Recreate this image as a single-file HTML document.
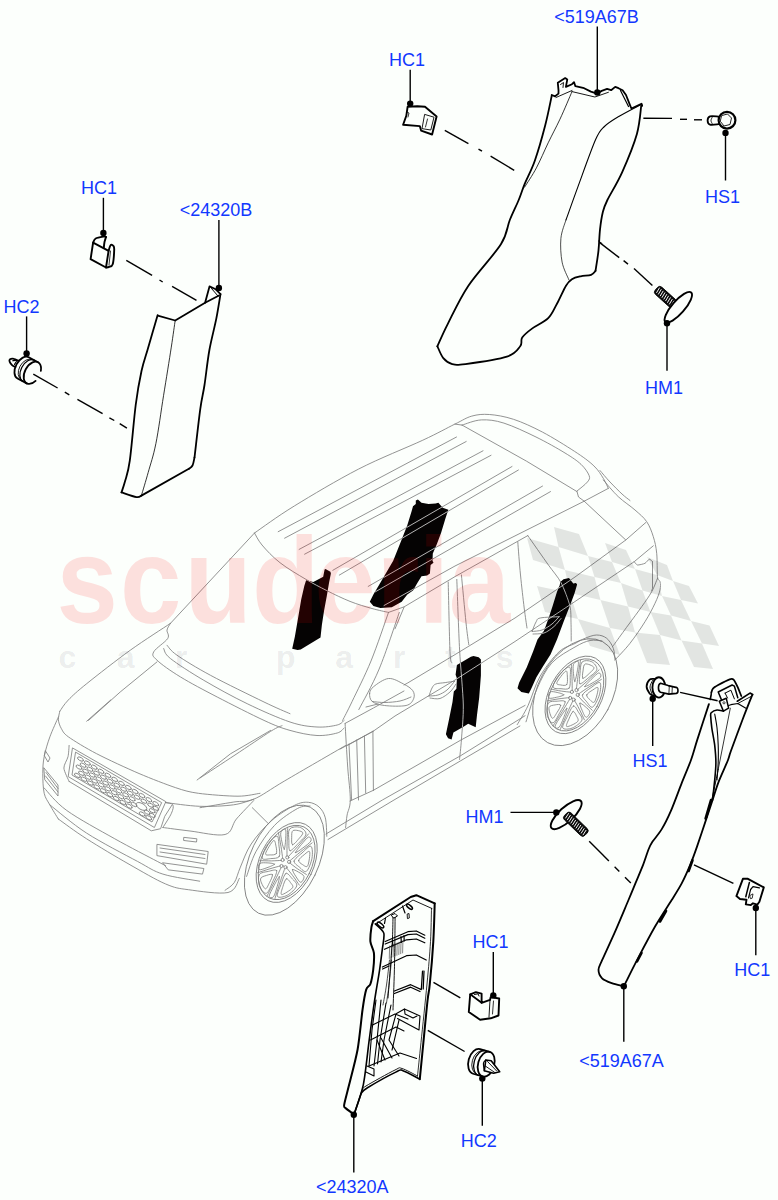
<!DOCTYPE html>
<html lang="en"><head><meta charset="utf-8"><title>Side Trim - Front And Rear</title>
<style>
html,body{margin:0;padding:0;background:#fcfffc;}
body{width:778px;height:1200px;overflow:hidden;font-family:"Liberation Sans",Arial,Helvetica,sans-serif;}
svg{display:block;font-family:"Liberation Sans",Arial,Helvetica,sans-serif;}
</style></head><body>
<svg width="778" height="1200" viewBox="0 0 778 1200">
<rect width="778" height="1200" fill="#fcfffc"/>
<defs><g id="carlines" fill="none" stroke-width="0.85" stroke-linecap="round" stroke-linejoin="round">
<path d="M254.5,533 C261.1,528.5 277,516.6 294.3,506 C311.6,495.4 337.1,480.1 358.5,469.1 C379.9,458.1 406.7,447.7 422.8,440.2 C438.9,432.7 446.7,428.1 454.9,424.1 C463.1,420.1 466.1,417.7 471.8,416.1 C477.6,414.5 482.4,414 489.4,414.5 C496.3,415 504.6,416.4 513.5,419.3 C522.4,422.2 532.3,426.8 542.5,432.1 C552.7,437.5 566,445.8 574.6,451.4 C583.2,457 589.1,461.3 593.9,465.9 C598.7,470.4 601.1,474.9 603.5,478.7 C605.9,482.4 607.5,486.8 608.3,488.4"/>
<path d="M462.1,425.1 C465.3,424.2 474.4,420.2 481.4,419.9 C488.4,419.6 494.8,420.2 503.9,423.1 C513,426 525.8,432 536,437 C546.2,442 557.5,448.4 565,453 C572.5,457.6 577,460.6 581,464.3 C585,468.1 588,472.6 589.1,475.5 C590.2,478.4 589.5,479.3 587.5,481.9 C585.5,484.5 578.8,489.5 577,491"/>
<path d="M462.1,425.1 L526.4,461.1 L577,491.6"/>
<path d="M454.9,424.1 L462.1,425.1"/>
<path d="M577,491.6 L578.5,497 L584.2,501.2 L608.3,488.4"/>
<path d="M600,470.5 C601.7,472.4 606.3,478.1 610,482 C613.7,485.9 618.7,490.9 622,494 C625.3,497.1 628.7,499.4 630,500.5"/>
<path d="M603.3,480 C605.8,482.8 613,491.7 618.3,496.7 C623.6,501.7 630.3,505.8 635,510 C639.7,514.2 643.7,517.2 646.7,521.7 C649.8,526.2 651.6,531.4 653.3,536.7 C655,542 656,546.6 656.7,553.3 C657.4,560 657,572 657.5,576.7 C658,581.4 659.6,579.5 660,581.7 C660.4,583.9 660.8,586.4 660,590 C659.2,593.6 657.5,598 655,603.3 C652.5,608.6 649.2,615 645,621.7 C640.8,628.4 635,636.9 630,643.3 C625,649.7 617.5,657.2 615,660"/>
<path d="M657.5,578.3 C656.5,580.5 654.3,587 651.7,591.7 C649.1,596.4 645.6,601.2 641.7,606.7 C637.8,612.2 632.8,618.9 628.3,625 C623.8,631.1 617.6,639.7 615,643.3 C612.4,646.9 612.9,646.1 612.5,646.7"/>
<path d="M584.2,501.2 L625.8,540 L645.8,522.5"/>
<path d="M634.2,561.7 C634.5,562 636.4,564.8 637.5,565 C638.6,565.2 643.8,563.9 645,563.3 C646.2,562.7 648.5,559.4 649.2,559.2 C650,559 652.2,561.5 652.5,561.7"/>
<path d="M652.5,561.7 L652.5,588.3 L651.7,590.8"/>
<path d="M388.5,612.4 L404.2,606.8 L455,576.6 L515,542.8 L527.8,535.6"/>
<path d="M527.8,535.6 C530.5,539.5 544,558.8 548.4,565 C552.8,571.2 558,576.9 560.9,582.4 C563.8,587.9 568.7,600.8 570,606.2 C571.3,611.6 570.8,618.2 571,622.8 C571.2,627.4 571.2,638.6 571.2,641"/>
<path d="M384,605.5 L395,599.4 L455,566 L584.2,501.2"/>
<path d="M254.5,533 L170.4,623.4"/>
<path d="M254.5,533 C255.8,535 257.8,540 262,545 C266.2,550 272.7,557 280,562.7 C287.3,568.4 298.2,574.8 306,579.4 C313.8,584 319.5,586.9 326.8,590.6 C334.1,594.3 342.5,598.4 350,601.4 C357.5,604.4 365.6,606.7 372,608.5 C378.4,610.3 385.8,611.8 388.5,612.4"/>
<path d="M278.2,531.7 L456.5,437"/>
<path d="M284.6,538.2 L466.2,441.5"/>
<path d="M299.1,549.4 L483,450.8"/>
<path d="M304.6,554.2 L491,455.3"/>
<path d="M332.8,570.3 L512,466.5"/>
<path d="M339.3,575.1 L518.4,470"/>
<path d="M368.2,586.4 L542.5,486.1"/>
<path d="M375,592 L550.5,491.6"/>
<path d="M388.5,612.4 C385.6,620.5 377.1,646.1 371,661 C364.9,675.9 356.8,691.6 352.1,701.5 C347.4,711.4 344.2,717.2 342.6,720.4"/>
<path d="M399.3,612.4 C395.9,621.9 385.9,652.9 379.1,669.1 C372.4,685.3 362.2,702.9 358.8,709.6"/>
<path d="M395,628.8 L404.2,606.8"/>
<path d="M170.4,623.4 C163.7,627.9 144.2,640.2 130.3,650.2 C116.4,660.2 97.1,675.3 86.8,683.6 C76.5,691.9 72.8,695.4 68.3,700 C63.8,704.6 61.2,709.4 59.8,711.3"/>
<path d="M170.4,623.4 C169.8,624.5 167.4,627.6 167,630.1 C166.6,632.6 169.9,634.9 167.7,638.5 C165.5,642.1 155.5,648.3 153.7,651.9 C151.9,655.5 152.6,656 157,660.2 C161.4,664.4 170.4,670.8 180.4,676.9 C190.4,683 203.3,689.8 217.2,697 C231.1,704.2 251.9,714.8 264,720.4 C276.1,726 281.2,727.9 290,730.4 C298.8,732.9 309.1,735.1 317,735.5 C324.9,735.9 332.7,734.2 337.2,733 C341.7,731.8 342.9,728.8 344,728"/>
<path d="M163.7,648.5 C164.8,650.2 163.7,653.2 170.4,658.5 C177.1,663.8 191,672.8 203.8,680.3 C216.6,687.8 232.8,696.8 247.2,703.7 C261.6,710.7 278.4,718.1 290,722 C301.6,725.9 309.1,726.5 317,727 C324.9,727.5 332.7,726.1 337.2,725 C341.7,723.9 342.9,721.2 344,720.4"/>
<path d="M167,645.2 C168.7,646.9 169.8,650.2 177,655.2 C184.2,660.2 196,667.5 210.5,675.3 C225,683.1 250.8,695.6 264,702 C277.2,708.4 285.7,711.8 290,713.7"/>
<path d="M157,661.9 L120.2,692 L88.5,720.4"/>
<path d="M59.8,711.3 C59.6,712.6 58.2,717.2 58.4,719.8 C58.6,722.3 59.7,725.8 61.2,728.3 C62.7,730.8 63,733 68.3,736.8 C73.6,740.6 86,748.2 96.6,753.7 C107.2,759.2 127.1,768.4 139,773.5 C150.9,778.6 166.8,784.7 175.7,787.7 C184.6,790.7 189.1,792 198.4,793.3 C207.7,794.6 228.8,796.2 238,796.2 C247.2,796.2 256.7,793.7 260,793.3"/>
<path d="M86.7,721.2 L110.7,700"/>
<path d="M270.6,730.4 L230.5,753.8 L197.1,780"/>
<path d="M200,778 C205.8,774.2 223.2,762.8 235,755 C246.8,747.2 262.9,736.2 270.7,731.3 C278.5,726.4 280.1,726.6 282,725.7"/>
<path d="M345.1,723.4 L373.4,708 L404,691"/>
<path d="M58.4,717 C57,720.3 52.3,730.2 49.9,736.8 C47.5,743.4 45.4,750.5 44.2,756.6 C43,762.7 42.8,767.4 42.8,773.5 C42.8,779.6 43,788.1 44.2,793.3 C45.4,798.5 47.4,800.5 49.8,804.8 C52.1,809.1 56.9,816.6 58.3,819"/>
<path d="M58.3,819 C63,822.3 74.8,831.3 86.6,838.8 C98.4,846.3 115.8,856.7 129,864.2 C142.2,871.7 155.8,879.8 165.7,884 C175.6,888.2 178,888.3 188.4,889.7 C198.8,891.1 219.5,894.4 228,892.5 C236.5,890.6 237.4,880.8 239.3,878.4"/>
<path d="M44.1,787.9 C47.9,791.7 55,802 66.8,810.5 C78.6,819 99.7,830.3 114.8,838.8 C129.9,847.3 148.8,856.9 157.3,861.4 C165.8,865.9 164.3,864.9 165.7,865.6"/>
<path d="M49.8,804.8 C55.9,809.5 72,823.7 86.6,833.1 C101.2,842.5 124.8,854.6 137.5,861.4 C150.2,868.2 152.5,870.8 162.9,874.1 C173.3,877.4 193.6,880 199.7,881.2"/>
<path d="M72.4,748.3 L68.2,776.6 L154.4,827.5 L165.7,802Z"/>
<path d="M75.5,752.5 L72,775 L152,822 L161.5,803Z"/>
<ellipse cx="80.5" cy="759.1" rx="3.3" ry="1.6" transform="rotate(30 80.5 759.1)"/>
<ellipse cx="87.4" cy="763.1" rx="3.3" ry="1.6" transform="rotate(30 87.4 763.1)"/>
<ellipse cx="94.2" cy="767.2" rx="3.3" ry="1.6" transform="rotate(30 94.2 767.2)"/>
<ellipse cx="101" cy="771.3" rx="3.3" ry="1.6" transform="rotate(30 101 771.3)"/>
<ellipse cx="107.9" cy="775.3" rx="3.3" ry="1.6" transform="rotate(30 107.9 775.3)"/>
<ellipse cx="114.7" cy="779.4" rx="3.3" ry="1.6" transform="rotate(30 114.7 779.4)"/>
<ellipse cx="121.5" cy="783.4" rx="3.3" ry="1.6" transform="rotate(30 121.5 783.4)"/>
<ellipse cx="128.4" cy="787.5" rx="3.3" ry="1.6" transform="rotate(30 128.4 787.5)"/>
<ellipse cx="135.2" cy="791.5" rx="3.3" ry="1.6" transform="rotate(30 135.2 791.5)"/>
<ellipse cx="142" cy="795.6" rx="3.3" ry="1.6" transform="rotate(30 142 795.6)"/>
<ellipse cx="148.9" cy="799.7" rx="3.3" ry="1.6" transform="rotate(30 148.9 799.7)"/>
<ellipse cx="155.7" cy="803.7" rx="3.3" ry="1.6" transform="rotate(30 155.7 803.7)"/>
<ellipse cx="83.1" cy="765.2" rx="3.3" ry="1.6" transform="rotate(30 83.1 765.2)"/>
<ellipse cx="89.9" cy="769.2" rx="3.3" ry="1.6" transform="rotate(30 89.9 769.2)"/>
<ellipse cx="96.6" cy="773.2" rx="3.3" ry="1.6" transform="rotate(30 96.6 773.2)"/>
<ellipse cx="103.4" cy="777.2" rx="3.3" ry="1.6" transform="rotate(30 103.4 777.2)"/>
<ellipse cx="110.1" cy="781.2" rx="3.3" ry="1.6" transform="rotate(30 110.1 781.2)"/>
<ellipse cx="116.8" cy="785.2" rx="3.3" ry="1.6" transform="rotate(30 116.8 785.2)"/>
<ellipse cx="123.6" cy="789.2" rx="3.3" ry="1.6" transform="rotate(30 123.6 789.2)"/>
<ellipse cx="130.3" cy="793.2" rx="3.3" ry="1.6" transform="rotate(30 130.3 793.2)"/>
<ellipse cx="137.1" cy="797.2" rx="3.3" ry="1.6" transform="rotate(30 137.1 797.2)"/>
<ellipse cx="143.8" cy="801.2" rx="3.3" ry="1.6" transform="rotate(30 143.8 801.2)"/>
<ellipse cx="150.6" cy="805.2" rx="3.3" ry="1.6" transform="rotate(30 150.6 805.2)"/>
<ellipse cx="155.7" cy="808.3" rx="3.3" ry="1.6" transform="rotate(30 155.7 808.3)"/>
<ellipse cx="79" cy="767.2" rx="3.3" ry="1.6" transform="rotate(30 79 767.2)"/>
<ellipse cx="85.6" cy="771.2" rx="3.3" ry="1.6" transform="rotate(30 85.6 771.2)"/>
<ellipse cx="92.3" cy="775.1" rx="3.3" ry="1.6" transform="rotate(30 92.3 775.1)"/>
<ellipse cx="98.9" cy="779.1" rx="3.3" ry="1.6" transform="rotate(30 98.9 779.1)"/>
<ellipse cx="105.6" cy="783.1" rx="3.3" ry="1.6" transform="rotate(30 105.6 783.1)"/>
<ellipse cx="112.2" cy="787" rx="3.3" ry="1.6" transform="rotate(30 112.2 787)"/>
<ellipse cx="118.9" cy="791" rx="3.3" ry="1.6" transform="rotate(30 118.9 791)"/>
<ellipse cx="125.6" cy="794.9" rx="3.3" ry="1.6" transform="rotate(30 125.6 794.9)"/>
<ellipse cx="132.2" cy="798.9" rx="3.3" ry="1.6" transform="rotate(30 132.2 798.9)"/>
<ellipse cx="152.2" cy="810.8" rx="3.3" ry="1.6" transform="rotate(30 152.2 810.8)"/>
<ellipse cx="81.5" cy="773.3" rx="3.3" ry="1.6" transform="rotate(30 81.5 773.3)"/>
<ellipse cx="88" cy="777.2" rx="3.3" ry="1.6" transform="rotate(30 88 777.2)"/>
<ellipse cx="94.6" cy="781.1" rx="3.3" ry="1.6" transform="rotate(30 94.6 781.1)"/>
<ellipse cx="101.2" cy="785" rx="3.3" ry="1.6" transform="rotate(30 101.2 785)"/>
<ellipse cx="107.7" cy="788.9" rx="3.3" ry="1.6" transform="rotate(30 107.7 788.9)"/>
<ellipse cx="114.3" cy="792.8" rx="3.3" ry="1.6" transform="rotate(30 114.3 792.8)"/>
<ellipse cx="120.9" cy="796.7" rx="3.3" ry="1.6" transform="rotate(30 120.9 796.7)"/>
<ellipse cx="127.4" cy="800.6" rx="3.3" ry="1.6" transform="rotate(30 127.4 800.6)"/>
<ellipse cx="134" cy="804.5" rx="3.3" ry="1.6" transform="rotate(30 134 804.5)"/>
<ellipse cx="147.1" cy="812.3" rx="3.3" ry="1.6" transform="rotate(30 147.1 812.3)"/>
<ellipse cx="152.1" cy="815.3" rx="3.3" ry="1.6" transform="rotate(30 152.1 815.3)"/>
<ellipse cx="77.4" cy="775.4" rx="3.3" ry="1.6" transform="rotate(30 77.4 775.4)"/>
<ellipse cx="83.9" cy="779.2" rx="3.3" ry="1.6" transform="rotate(30 83.9 779.2)"/>
<ellipse cx="90.4" cy="783.1" rx="3.3" ry="1.6" transform="rotate(30 90.4 783.1)"/>
<ellipse cx="96.8" cy="787" rx="3.3" ry="1.6" transform="rotate(30 96.8 787)"/>
<ellipse cx="103.3" cy="790.8" rx="3.3" ry="1.6" transform="rotate(30 103.3 790.8)"/>
<ellipse cx="109.8" cy="794.7" rx="3.3" ry="1.6" transform="rotate(30 109.8 794.7)"/>
<ellipse cx="116.3" cy="798.5" rx="3.3" ry="1.6" transform="rotate(30 116.3 798.5)"/>
<ellipse cx="122.8" cy="802.4" rx="3.3" ry="1.6" transform="rotate(30 122.8 802.4)"/>
<ellipse cx="129.2" cy="806.2" rx="3.3" ry="1.6" transform="rotate(30 129.2 806.2)"/>
<ellipse cx="142.2" cy="814" rx="3.3" ry="1.6" transform="rotate(30 142.2 814)"/>
<ellipse cx="148.7" cy="817.8" rx="3.3" ry="1.6" transform="rotate(30 148.7 817.8)"/>
<ellipse cx="141.5" cy="806.5" rx="6" ry="3" transform="rotate(30 141.5 806.5)"/>
<path d="M69.1,745.4 C69,746.9 68.7,753.7 68,756.7 C67.3,759.7 63.8,764.7 63.9,768 C64,771.3 68.4,779.6 69.1,781.4"/>
<path d="M69.1,781.4 L151.3,830.8 L160.6,828.7 L164.7,816.4 L171.9,805.1"/>
<path d="M165.7,802.6 C166.9,803 171.9,803 172.8,804.8 C173.8,806.6 173.1,809.5 171.4,813.3 C169.8,817.1 164.3,825.1 162.9,827.5"/>
<path d="M162.9,827.5 C167.4,828.1 179.6,829.8 190,831 C200.4,832.2 217.4,836.5 225.1,834.5 C232.8,832.5 231.6,824.6 236.4,819 C241.2,813.4 250.8,803.7 253.7,800.6"/>
<path d="M165.7,802.6 C171.4,803.2 188.4,805.9 199.7,806.3 C211,806.7 224.6,806 233.6,804.8 C242.6,803.6 250.3,800.1 253.7,799.2"/>
<path d="M157.3,844.4 L208.2,851.5 L206.7,864.2 L157.3,855.7Z"/>
<path d="M160,848 L205,854.5"/>
<path d="M160,852 L205,858.5"/>
<path d="M162.9,862.8 L203.9,868.5 L202.5,874.1 L168.6,869.9Z"/>
<path d="M184.1,837.4 L196.9,838.8 L196.5,842 L184,840.5Z"/>
<path d="M44,768 L58,785 L58,796 L45,780Z"/>
<path d="M46,772.5 L58,788.5"/>
<path d="M45.5,776 L58,792"/>
<path d="M45.5,751 L50,758 L48,762 L44.5,756Z"/>
<path d="M200,807.7 C205.7,806.8 225,803.4 233.9,802 C242.8,800.6 245.2,802.7 253.7,799.2 C262.2,795.7 269.5,789.8 284.8,780.8 C300.1,771.8 335.5,751.4 345.6,745.5"/>
<path d="M252.3,807.7 L267.9,823.2"/>
<path d="M225,890.3 C226.6,889 231.7,886.4 234.3,882.5 C236.9,878.6 237.6,873.5 240.4,867.1 C243.2,860.7 246,851.7 251.2,844 C256.3,836.3 264.1,827.3 271.3,820.9 C278.5,814.5 288.2,808.5 294.4,805.4 C300.6,802.3 304.2,802 308.3,802.3 C312.4,802.6 316.3,804.4 319.1,807 C321.9,809.6 324,812.9 325.3,817.8 C326.6,822.7 326.6,833.2 326.8,836.3"/>
<path d="M246.6,876.4 C248.2,872.3 251.3,860.2 255.9,851.7 C260.5,843.2 267.5,832.7 274.4,825.5 C281.3,818.3 291.6,811.8 297.5,808.5 C303.4,805.2 307.9,806.4 310,806"/>
<ellipse cx="284.4" cy="860.2" rx="34" ry="59" transform="rotate(26 284.4 860.2)"/>
<ellipse cx="286.7" cy="862.5" rx="27" ry="42.5" transform="rotate(26 286.7 862.5)"/>
<ellipse cx="286.7" cy="862.5" rx="25.110000000000003" ry="39.525" transform="rotate(26 286.7 862.5)"/>
<path d="M288.5,856.5 C290,854.8 294.6,850 297.9,846.3 C301.2,842.5 306.7,836 308.5,833.9"/>
<path d="M290.1,860.6 C291.8,859.2 296.6,855.1 300.2,852.1 C303.9,849.1 310.1,844.4 312.1,842.9"/>
<path d="M295.4,852.7 C295.1,852.1 299.2,847.2 301.4,844.5 C303.6,841.9 306.9,837.6 308.5,837 C310.1,836.4 311.9,839.2 310.9,841 C309.9,842.9 305.4,846.1 302.8,848 C300.2,850 295.6,853.3 295.4,852.7Z"/>
<path d="M294.1,861.1 C294.5,858.7 299.2,855.4 302,853 C304.8,850.5 309.3,845.4 310.9,846.3 C312.6,847.1 312.7,854.1 312,858.2 C311.2,862.4 308.5,869.8 306.4,871.3 C304.3,872.8 301.5,868.8 299.4,867.1 C297.4,865.4 293.7,863.4 294.1,861.1Z"/>
<path d="M298.6,860.4 C298.9,858.7 302.3,856.2 304.2,854.7 C306,853.3 309.1,850 309.7,851.9 C310.3,853.7 308.9,863.7 307.7,865.8 C306.5,867.9 303.9,865.4 302.4,864.5 C300.9,863.6 298.3,862 298.6,860.4Z"/>
<path d="M289.7,862.9 C290.9,863.8 294.5,866.7 297.2,868.6 C300,870.5 304.8,873.5 306.4,874.5"/>
<path d="M286.4,867.7 C287.5,869 290.5,872.6 292.6,875.5 C294.8,878.4 298.2,883.5 299.3,885.1"/>
<path d="M292.4,869.5 C292.8,868.8 296.5,870.9 298.5,872.1 C300.4,873.2 303.6,874.8 304,876.5 C304.4,878.2 302.2,882.4 300.8,882.4 C299.4,882.3 297.1,878.4 295.7,876.2 C294.3,874.1 291.9,870.2 292.4,869.5Z"/>
<path d="M285.9,873.4 C287.7,872.4 290.1,876.3 291.9,878.4 C293.7,880.5 297.5,883.1 296.7,885.9 C296,888.7 290.6,893.4 287.4,895.2 C284.1,896.9 278.5,898.2 277.5,896.4 C276.4,894.6 279.6,888.2 281,884.4 C282.4,880.5 284.1,874.4 285.9,873.4Z"/>
<path d="M286.3,878.8 C287.5,878.1 289.4,881 290.4,882.5 C291.4,884 293.9,885.9 292.4,887.9 C290.9,889.9 283.2,894.8 281.7,894.6 C280.1,894.3 282.1,889.2 282.9,886.6 C283.7,884 285,879.5 286.3,878.8Z"/>
<path d="M284.7,868.7 C283.9,871 281.6,877.5 280,882.5 C278.3,887.5 275.8,895.8 275,898.5"/>
<path d="M281.1,867.6 C280,869.8 277.1,876.2 274.8,880.9 C272.4,885.7 268.3,893.6 267,896.1"/>
<path d="M279.4,876.6 C280,876.8 278.2,883 277.2,886.4 C276.2,889.7 274.9,895.1 273.5,896.7 C272.2,898.3 269,898.1 269.1,896.3 C269.2,894.4 272.4,888.7 274.1,885.5 C275.8,882.2 278.9,876.5 279.4,876.6Z"/>
<path d="M276.7,870.6 C277.4,872.4 274.3,878.1 272.6,881.9 C270.9,885.6 268.7,892.3 266.6,893.2 C264.4,894 261,890 259.8,886.9 C258.5,883.9 257.8,877.3 259.2,874.7 C260.6,872.1 265.5,872.1 268.4,871.4 C271.3,870.7 276,868.9 276.7,870.6Z"/>
<path d="M272.5,874.7 C273,875.9 270.7,880.3 269.5,882.6 C268.2,885 266.7,889.4 265.2,888.8 C263.7,888.2 260.2,881.2 260.5,879 C260.7,876.7 264.6,876.1 266.6,875.4 C268.6,874.7 272,873.5 272.5,874.7Z"/>
<path d="M280.4,865.9 C278.7,866.4 273.7,867.6 269.9,868.8 C266.1,869.9 259.8,872.1 257.7,872.7"/>
<path d="M281.4,860.4 C279.7,860.5 274.9,860.8 271.3,860.9 C267.7,860.9 261.8,860.7 259.9,860.6"/>
<path d="M274.5,864.2 C274.3,865 269.6,866.8 267,867.7 C264.5,868.6 260.4,870.3 259.2,869.6 C257.9,868.9 258.2,864.6 259.7,863.5 C261.1,862.4 265.4,862.8 267.9,862.9 C270.3,863.1 274.6,863.4 274.5,864.2Z"/>
<path d="M279.2,856.6 C277.9,858.7 273.6,858.3 270.7,858.6 C267.9,858.8 262.7,860.4 262.2,858.1 C261.6,855.8 264.9,848.6 267.3,844.9 C269.8,841.3 274.9,835.9 276.9,836.1 C278.8,836.3 278.6,842.7 279,846.1 C279.4,849.5 280.6,854.6 279.2,856.6Z"/>
<path d="M276.3,853.7 C275.3,855.1 272,855 270.3,854.9 C268.5,854.9 265.1,855.7 265.6,853.4 C266.2,851 271.7,841.8 273.5,840.6 C275.2,839.5 275.5,844.2 276,846.3 C276.5,848.5 277.2,852.3 276.3,853.7Z"/>
<path d="M282.7,858.4 C282.4,856.4 281.7,850.6 281,846.4 C280.3,842.1 278.9,835.1 278.4,832.8"/>
<path d="M287,856.1 C287,853.9 286.9,847.8 287.1,843 C287.2,838.3 287.6,830.3 287.7,827.7"/>
<path d="M284.3,849.4 C283.7,849.8 282.5,844.6 281.9,841.8 C281.4,839 280.2,834.8 280.8,832.7 C281.4,830.6 284.7,828.2 285.5,829.4 C286.3,830.5 285.8,836.5 285.6,839.8 C285.4,843.2 284.9,849.1 284.3,849.4Z"/>
<path d="M290,850.7 C288.4,850.3 288.9,844.3 288.9,840.7 C288.8,837.1 287.8,831.3 289.6,829.1 C291.4,826.8 296.9,826.4 299.6,827.2 C302.3,828 306.3,831.3 306,834 C305.8,836.7 300.8,840.7 298.2,843.5 C295.5,846.3 291.5,851.2 290,850.7Z"/>
<path d="M292.4,844.8 C291.3,844.5 291.6,840.1 291.7,837.7 C291.8,835.3 291.3,831.4 293.1,830.5 C295,829.6 301.8,831 302.7,832.5 C303.5,834 299.8,837.6 298.1,839.6 C296.4,841.7 293.5,845.2 292.4,844.8Z"/>
<circle cx="289.1" cy="861.9" r="1.6"/>
<circle cx="285.5" cy="867.2" r="1.6"/>
<circle cx="281.5" cy="866" r="1.6"/>
<circle cx="282.6" cy="860" r="1.6"/>
<circle cx="287.3" cy="857.4" r="1.6"/>
<ellipse cx="575.2" cy="692.2" rx="37" ry="57.5" transform="rotate(28.6 575.2 692.2)"/>
<ellipse cx="575.5" cy="694.9" rx="26.2" ry="41.8" transform="rotate(28.6 575.5 694.9)"/>
<ellipse cx="575.5" cy="694.9" rx="24.366" ry="38.874" transform="rotate(28.6 575.5 694.9)"/>
<path d="M577.7,689.4 C579.4,688 584.2,683.8 587.8,680.6 C591.3,677.3 597.2,671.6 599.1,669.8"/>
<path d="M578.8,693.8 C580.5,692.6 585.5,689.2 589.2,686.8 C593,684.4 599.3,680.6 601.4,679.4"/>
<path d="M584.7,686.7 C584.5,686 588.9,681.7 591.2,679.4 C593.6,677.1 597.2,673.2 598.8,672.9 C600.3,672.6 601.6,675.6 600.5,677.3 C599.4,679 594.7,681.6 592.1,683.1 C589.5,684.7 584.8,687.3 584.7,686.7Z"/>
<path d="M582.5,694.9 C583.2,692.6 587.8,690 590.7,687.9 C593.6,685.9 598.5,681.5 599.9,682.6 C601.4,683.7 600.6,690.7 599.4,694.8 C598.2,698.9 594.8,705.9 592.7,707.1 C590.6,708.2 588.4,703.8 586.7,701.8 C585,699.7 581.8,697.2 582.5,694.9Z"/>
<path d="M586.7,694.9 C587.2,693.3 590.7,691.2 592.6,690.1 C594.5,688.9 597.7,686.1 598.1,688.1 C598.4,690 596,699.8 594.6,701.8 C593.2,703.7 591.1,700.8 589.8,699.6 C588.5,698.5 586.2,696.5 586.7,694.9Z"/>
<path d="M578.1,696 C579.2,697.1 582.1,700.5 584.5,702.9 C586.8,705.3 591,709 592.3,710.3"/>
<path d="M574.5,700.4 C575.3,701.8 577.7,705.9 579.3,709.2 C581,712.4 583.5,718.1 584.4,719.8"/>
<path d="M579.8,703.1 C580.3,702.5 583.5,705.1 585.2,706.6 C586.9,708.1 589.7,710.1 589.8,711.9 C590,713.7 587.4,717.6 586.1,717.3 C584.8,717 583.1,712.7 582.1,710.3 C581,708 579.3,703.7 579.8,703.1Z"/>
<path d="M573.4,706 C575.2,705.2 576.9,709.6 578.3,711.9 C579.7,714.3 582.9,717.5 581.9,720.2 C580.9,722.9 575.3,726.8 572.1,728.1 C568.9,729.3 563.5,729.8 562.7,727.8 C562,725.8 565.7,719.9 567.5,716.2 C569.2,712.6 571.6,706.7 573.4,706Z"/>
<path d="M573,711.5 C574.3,711 575.7,714.1 576.4,715.8 C577.2,717.5 579.2,719.8 577.6,721.6 C576,723.4 568.3,727 566.8,726.6 C565.4,726.1 567.9,721.3 569,718.8 C570,716.3 571.8,712 573,711.5Z"/>
<path d="M572.8,701 C571.8,703.2 568.8,709.4 566.7,714.2 C564.6,718.9 561.3,726.9 560.2,729.5"/>
<path d="M569.6,699.4 C568.3,701.5 564.8,707.4 562.1,711.8 C559.3,716.2 554.6,723.5 553.1,725.8"/>
<path d="M566.9,708.2 C567.4,708.4 565,714.4 563.7,717.6 C562.4,720.9 560.5,726 559,727.4 C557.6,728.9 554.7,728.2 555,726.3 C555.3,724.4 558.9,719.2 560.9,716.2 C562.9,713.2 566.5,708 566.9,708.2Z"/>
<path d="M565.1,701.8 C565.6,703.6 561.9,708.9 559.9,712.4 C557.9,715.9 555.1,722.3 553,722.8 C550.9,723.3 548.1,718.8 547.4,715.5 C546.6,712.2 546.7,705.5 548.3,703.1 C550,700.7 554.5,701.4 557.3,701.2 C560.1,701 564.7,699.9 565.1,701.8Z"/>
<path d="M560.7,705.2 C561,706.5 558.3,710.5 556.9,712.7 C555.5,714.8 553.5,719.1 552.2,718.2 C550.9,717.4 548.5,709.8 549,707.6 C549.5,705.4 553.2,705.3 555.1,704.9 C557.1,704.5 560.4,703.9 560.7,705.2Z"/>
<path d="M569.1,697.6 C567.4,697.8 562.7,698.3 559,698.8 C555.4,699.3 549.2,700.5 547.2,700.9"/>
<path d="M570.7,692.2 C569.2,692 564.6,691.6 561.3,691.1 C557.9,690.6 552.4,689.4 550.7,689.1"/>
<path d="M563.8,694.9 C563.6,695.7 558.9,696.8 556.4,697.3 C554,697.8 550,698.9 548.9,698 C547.9,697.1 548.6,692.8 550.1,691.9 C551.6,691 555.5,692.1 557.8,692.6 C560.1,693.1 564.1,694.2 563.8,694.9Z"/>
<path d="M569.2,688.1 C567.6,690 563.7,688.9 561,688.7 C558.3,688.5 553.4,689.2 553.1,686.9 C552.8,684.5 556.7,677.8 559.5,674.4 C562.2,671.1 567.6,666.5 569.4,667.1 C571.2,667.6 570.2,674 570.2,677.5 C570.2,681 570.7,686.2 569.2,688.1Z"/>
<path d="M566.7,684.7 C565.7,686 562.6,685.3 561,685 C559.4,684.6 556.1,685 556.9,682.6 C557.7,680.3 564,672 565.7,671.1 C567.5,670.2 567.2,675 567.4,677.2 C567.5,679.5 567.8,683.4 566.7,684.7Z"/>
<path d="M572.2,690.4 C572.2,688.4 572.2,682.4 572,678 C571.9,673.6 571.4,666.4 571.3,664"/>
<path d="M576.4,688.7 C576.7,686.6 577.4,680.4 578.1,675.6 C578.8,670.9 580.1,662.9 580.5,660.4"/>
<path d="M574.8,681.6 C574.2,681.9 573.7,676.5 573.5,673.6 C573.2,670.7 572.7,666.3 573.5,664.3 C574.3,662.3 577.7,660.3 578.3,661.6 C578.9,663 577.7,668.8 577.1,672.2 C576.5,675.5 575.4,681.4 574.8,681.6Z"/>
<path d="M579.9,683.8 C578.5,683.1 579.7,677.2 580,673.6 C580.4,669.9 580.2,664 582.1,662 C584,660 589.2,660.4 591.6,661.7 C594.1,662.9 597.4,666.8 596.8,669.5 C596.3,672.2 591.2,675.4 588.4,677.8 C585.5,680.2 581.3,684.5 579.9,683.8Z"/>
<path d="M582.8,678.3 C581.9,677.8 582.6,673.4 583,671 C583.4,668.6 583.4,664.6 585.2,664 C587,663.4 593.3,665.8 593.9,667.5 C594.5,669.1 590.6,672.1 588.8,673.9 C586.9,675.7 583.8,678.8 582.8,678.3Z"/>
<circle cx="577.7" cy="694.9" r="1.6"/>
<circle cx="573.7" cy="699.7" r="1.6"/>
<circle cx="570.2" cy="697.9" r="1.6"/>
<circle cx="571.9" cy="691.9" r="1.6"/>
<circle cx="576.5" cy="690.1" r="1.6"/>
<path d="M517.2,724.6 C519,721.5 524.2,713.8 528,705.7 C531.8,697.6 535,685.1 540.2,676.1 C545.4,667.1 553.3,657.2 559.1,651.8 C564.9,646.4 570.7,645.8 575,643.5 C579.3,641.2 581.4,639.7 585,638.3 C588.6,636.9 593.1,635 596.7,635 C600.3,635 603.9,636.1 606.7,638.3 C609.5,640.5 611.9,644.7 613.3,648.3 C614.7,651.9 614.7,658 615,660"/>
<path d="M526,721.8 C527.8,716.3 532.7,698.6 537,688.8 C541.3,679 545.4,670.1 551.7,663.1 C558,656.1 568.6,650.8 575,647 C581.4,643.2 585.5,641.5 590,640.5 C594.5,639.5 600,640.9 602,641"/>
<path d="M345.1,723.4 C345.5,730.7 346.8,754.3 347.7,767.1 C348.6,779.9 350.4,792 350.3,800 C350.2,808 347.9,810.4 347.1,815 C346.3,819.6 345.9,825.4 345.6,827.5"/>
<path d="M349,744 L351.6,800"/>
<path d="M356.7,740 L358.5,800"/>
<path d="M364.4,736 L365.7,793"/>
<path d="M372.9,731.1 L373.4,790.3"/>
<path d="M347.7,745.3 L373.4,731.1"/>
<path d="M350,801 L373.4,790.3"/>
<path d="M373.4,790.3 L460.8,740.1 L525.1,705.4"/>
<path d="M326,834 L382.4,800 L460.8,755.6 L525.1,715.7"/>
<path d="M328,839.5 L394,800 L460.8,760.7 L519.9,726"/>
<path d="M404,685 L407.8,682.9 L455,654.6 L515,618 L575,577 L625.8,540"/>
<path d="M340,749.1 L373.4,731.1 L395,716 L455,680 L515,641.5 L575,601.5 L634.2,561.7 L653.3,545.8"/>
<path d="M448.2,582 C448.5,593.6 449.4,638.2 450,651.7 C450.6,665.2 451.6,660.9 451.9,662.8"/>
<path d="M456.8,579.4 C457.2,588.8 458.7,633.3 459.6,650 C460.5,666.7 463.1,693 463.3,705 C463.5,717 461.9,732.7 461.4,740 C460.9,747.3 459.8,756.8 459.5,759.4"/>
<path d="M461.4,574.9 C462.2,582.9 464.8,611 466,622.6 C467.2,634.2 468.3,640.9 468.8,644.6"/>
<path d="M517.8,542 C518.2,547.5 519.4,564 520.5,575 C521.6,586 523.1,599.2 524.2,608 C525.3,616.8 526.5,624.7 527,628"/>
<path d="M369.6,693.4 C369.8,690.9 370.6,689.1 373.7,686.6 C376.8,684.1 383.6,679 388.5,678.5 C393.4,678 399.3,681.9 403.4,683.9 C407.4,685.9 411.1,688.2 412.8,690.7 C414.5,693.2 414.7,696.3 413.6,698.8 C412.5,701.3 411,704.4 406.1,705.5 C401.2,706.6 390.1,706.2 384.5,705.5 C378.9,704.8 374.8,703.5 372.3,701.5 C369.8,699.5 369.4,695.9 369.6,693.4Z"/>
<path d="M366,707 L378,704"/>
<path d="M372.3,701.5 C374.4,701.7 380.4,702.6 385,702.5 C389.6,702.4 395.7,701.9 400,701 C404.3,700.1 409.2,697.7 411,697"/>
<path d="M429,696 C429.5,694.7 430.9,690 432,688 C433.1,686 433.6,684.9 435.8,684 C438,683.1 442.1,683.1 445.2,682.6 C448.3,682.1 453,681.4 454.6,681.2"/>
<path d="M429,696 C430.5,695.8 435,696 438,695 C441,694 444.2,692.3 447,690 C449.8,687.7 453.3,682.7 454.6,681.2"/>
<path d="M430,698 C431.7,698.1 436.7,699.5 440,698.5 C443.3,697.5 447.3,694.4 450,692 C452.7,689.6 455,685.3 456,684"/>
<path d="M532.1,631.5 C532.8,629.9 534.6,624.2 536,622 C537.4,619.8 536.4,618.9 540.2,618 C544.1,617.1 556,616.9 559.1,616.7"/>
<path d="M532.1,631.5 C533.8,631.2 538.7,631.2 542,630 C545.3,628.8 549.1,626.2 552,624 C554.9,621.8 557.9,617.9 559.1,616.7"/>
<path d="M533,634 C534.8,633.8 540.5,634.2 544,633 C547.5,631.8 551.2,628.9 554,626.5 C556.8,624.1 559.8,619.8 561,618.5"/>
</g></defs>
<clipPath id="pilclip"><path d="M306.1,580.3 L313.3,582.1 L321.9,577.6 L323.2,576.7 L324.6,569.5 L325.5,569 L330.4,571.7 L330.9,573.5 L329.1,582.5 L326.8,596 L324.1,610.4 L321.9,624.8 L320.5,637.4 L300.7,649.6 L297.6,650 L292.2,648.7 L294.9,636.5 L298,618.5 L301.2,599.6 L304.3,586.1Z M415.8,500.6 L417.9,499.6 L421.5,502.7 L428.5,504.1 L435.6,503.4 L438.4,502.7 L442.7,507.7 L448.3,509.8 L445.5,518.3 L441.2,532.4 L437,543.7 L432.8,553.6 L432.5,560.7 L433.5,562.8 L430.6,564.9 L429.9,573.4 L427.1,575.5 L421.5,576.2 L417.2,583.3 L413,590.4 L407.3,594.6 L401.7,601.7 L391.8,607.3 L380.4,608.1 L373.4,605.9 L369.8,601.7 L373.4,594.6 L383.3,577.7 L393.2,560.7 L401.7,539.5 L407.3,525.3 L411.6,511.2 L413,506.3 L415.8,504.1Z M456.9,665.1 L470.9,656.8 L473.5,655.9 L478.7,657.2 L480.9,659.4 L480.9,675.6 L479.2,697.5 L477,715 L475.7,727.2 L468.2,723.7 L463.9,726.4 L453.4,732.5 L451.6,739.5 L448.1,738.2 L445.9,734.2 L449,719.4 L452.5,701.9 L453.8,691.4 L456.4,688.7 L456.9,678.2 L455.6,674.7Z M560.3,581.9 L563.5,579.2 L569,578.1 L571.1,580.8 L573.3,583.6 L576,583 L577.1,584.6 L574.4,593.8 L569,607.9 L563.5,622 L557,639.4 L550.5,654.6 L542.9,666.5 L536.4,677.3 L531,689.2 L528.8,693.6 L521.3,692 L517.5,688.2 L519.1,682.7 L526.7,667.6 L533.2,651.3 L537.5,639.4 L544,630.7 L548.4,618.8 L552.7,605.8 L557,591.7 L559.7,585.2Z"/></clipPath>
<use href="#carlines" stroke="#808080"/>
<path id="pillars" d="M306.1,580.3 L313.3,582.1 L321.9,577.6 L323.2,576.7 L324.6,569.5 L325.5,569 L330.4,571.7 L330.9,573.5 L329.1,582.5 L326.8,596 L324.1,610.4 L321.9,624.8 L320.5,637.4 L300.7,649.6 L297.6,650 L292.2,648.7 L294.9,636.5 L298,618.5 L301.2,599.6 L304.3,586.1Z M415.8,500.6 L417.9,499.6 L421.5,502.7 L428.5,504.1 L435.6,503.4 L438.4,502.7 L442.7,507.7 L448.3,509.8 L445.5,518.3 L441.2,532.4 L437,543.7 L432.8,553.6 L432.5,560.7 L433.5,562.8 L430.6,564.9 L429.9,573.4 L427.1,575.5 L421.5,576.2 L417.2,583.3 L413,590.4 L407.3,594.6 L401.7,601.7 L391.8,607.3 L380.4,608.1 L373.4,605.9 L369.8,601.7 L373.4,594.6 L383.3,577.7 L393.2,560.7 L401.7,539.5 L407.3,525.3 L411.6,511.2 L413,506.3 L415.8,504.1Z M456.9,665.1 L470.9,656.8 L473.5,655.9 L478.7,657.2 L480.9,659.4 L480.9,675.6 L479.2,697.5 L477,715 L475.7,727.2 L468.2,723.7 L463.9,726.4 L453.4,732.5 L451.6,739.5 L448.1,738.2 L445.9,734.2 L449,719.4 L452.5,701.9 L453.8,691.4 L456.4,688.7 L456.9,678.2 L455.6,674.7Z M560.3,581.9 L563.5,579.2 L569,578.1 L571.1,580.8 L573.3,583.6 L576,583 L577.1,584.6 L574.4,593.8 L569,607.9 L563.5,622 L557,639.4 L550.5,654.6 L542.9,666.5 L536.4,677.3 L531,689.2 L528.8,693.6 L521.3,692 L517.5,688.2 L519.1,682.7 L526.7,667.6 L533.2,651.3 L537.5,639.4 L544,630.7 L548.4,618.8 L552.7,605.8 L557,591.7 L559.7,585.2Z" fill="#050303"/>
<use href="#carlines" stroke="#d4d4d4" clip-path="url(#pilclip)"/>
<g id="watermark">
<text x="0" y="0" dx="0 2.2 3.6 0 -5.8 1 -1 -0.5" transform="translate(56.5,622.5) scale(0.905,1)" font-size="122" font-weight="bold" fill="#ff0000" fill-opacity="0.12">scuderia</text>
<text x="58.5" y="668" font-size="32" font-weight="bold" fill="#100020" fill-opacity="0.085" letter-spacing="40.5">car</text>
<text x="276" y="668" font-size="32" font-weight="bold" fill="#100020" fill-opacity="0.085" letter-spacing="39.8">parts</text>
<path d="M554,527 L579,534 L588,556 L558.5,547Z" fill="#000" fill-opacity="0.1"/>
<path d="M605,543 L626,550 L635,569 L612,562Z" fill="#000" fill-opacity="0.1"/>
<path d="M647,557 L667,565 L673,581 L657,575Z" fill="#000" fill-opacity="0.1"/>
<path d="M527,538 L558.5,547 L565,570 L533,560Z" fill="#000" fill-opacity="0.1"/>
<path d="M588,556 L612,562 L621,583 L594.5,577Z" fill="#000" fill-opacity="0.1"/>
<path d="M635,569 L657,575 L662,596 L642.5,590.5Z" fill="#000" fill-opacity="0.1"/>
<path d="M673,581 L689,586 L698,603.5 L681,600Z" fill="#000" fill-opacity="0.1"/>
<path d="M565,570 L594.5,577 L600.5,600 L570,593Z" fill="#000" fill-opacity="0.1"/>
<path d="M621,583 L642.5,590.5 L650.5,612 L628,606.5Z" fill="#000" fill-opacity="0.1"/>
<path d="M662,596 L681,600 L691,621 L671,615.5Z" fill="#000" fill-opacity="0.1"/>
<path d="M537,586 L570,593 L578,619 L545,612Z" fill="#000" fill-opacity="0.1"/>
<path d="M600.5,600 L628,606.5 L635,632.5 L610,628Z" fill="#000" fill-opacity="0.1"/>
<path d="M650.5,612 L671,615.5 L681.5,640.5 L660,635Z" fill="#000" fill-opacity="0.1"/>
<path d="M691,621 L709.5,625.5 L719,646 L702,643.5Z" fill="#000" fill-opacity="0.1"/>
<path d="M578,619 L610,628 L620,655 L590,646Z" fill="#000" fill-opacity="0.1"/>
<path d="M635,632.5 L660,635 L670,665 L647,663Z" fill="#000" fill-opacity="0.1"/>
<path d="M681.5,640.5 L702,643.5 L713,669 L694,667Z" fill="#000" fill-opacity="0.1"/>
</g>
<g id="parts">
<path d="M157.8,315.7 L175.2,320.5 L205.1,302.8 L219,295.5" fill="none" stroke="#000" stroke-width="1.8" stroke-linejoin="round" stroke-linecap="round" />
<path d="M205.1,302.8 L209.5,286.4 L215.7,289.3 L220.5,294.1" fill="none" stroke="#000" stroke-width="1.8" stroke-linejoin="round" stroke-linecap="round" />
<path d="M211.5,288.5 L218,296" fill="none" stroke="#000" stroke-width="1" stroke-linejoin="round" stroke-linecap="round" />
<path d="M220.5,294.1 C219.8,298.1 218.2,308.9 216.4,318.2 C214.6,327.5 211.4,338.9 209.4,350 C207.4,361.1 206,375.2 204.5,385 C203,394.8 202,396.7 200.3,408.8 C198.6,420.9 195.5,449.4 194.5,457.5" fill="none" stroke="#000" stroke-width="1.8" stroke-linejoin="round" stroke-linecap="round" />
<path d="M194.5,457.5 C194.2,458.8 193.4,463.6 192.5,465.5 C191.6,467.4 189.5,468.2 188.9,468.8" fill="none" stroke="#000" stroke-width="1.8" stroke-linejoin="round" stroke-linecap="round" />
<path d="M188.9,468.8 L141.4,495.6" fill="none" stroke="#000" stroke-width="1.8" stroke-linejoin="round" stroke-linecap="round" />
<path d="M141.4,495.6 C140.6,495.9 139.8,497.6 136.5,497.1 C133.2,496.6 124,493.2 121.5,492.4" fill="none" stroke="#000" stroke-width="1.8" stroke-linejoin="round" stroke-linecap="round" />
<path d="M121.5,492.4 C122.1,490.5 123.7,486.4 125.1,481.1 C126.5,475.8 128,473.3 129.8,460.6 C131.6,447.9 133.8,419.9 135.7,405 C137.6,390.1 139.5,380.2 141.5,371 C143.5,361.8 145.6,356.5 147.5,350 C149.4,343.5 151,337.8 152.7,332 C154.4,326.2 156.8,318 157.6,315.2" fill="none" stroke="#000" stroke-width="1.8" stroke-linejoin="round" stroke-linecap="round" />
<path d="M175.2,320.5 C174.5,324.9 173.2,334.6 171.3,347.1 C169.4,359.6 166.2,379.2 163.6,395.3 C161,411.4 158.5,430.6 155.9,443.5 C153.3,456.4 150.6,463.7 148.2,472.4 C145.8,481.1 142.5,491.7 141.4,495.6" fill="none" stroke="#000" stroke-width="0.8" stroke-linejoin="round" stroke-linecap="round" />
<path d="M93.1,242.6 L108.6,250.8 L106,267.5 L90.6,259.1Z" fill="none" stroke="#000" stroke-width="1.9" stroke-linejoin="round" stroke-linecap="round" />
<path d="M93.1,242.6 C93.5,241.9 93.9,239.5 95.7,238.5 C97.5,237.5 102.2,236.8 103.9,236.5 C105.6,236.2 105.7,236.9 106,237" fill="none" stroke="#000" stroke-width="1.9" stroke-linejoin="round" stroke-linecap="round" />
<path d="M106,237 C105.8,237.8 104.9,240.2 104.5,242 C104.1,243.8 103.9,247 103.8,248" fill="none" stroke="#000" stroke-width="1.9" stroke-linejoin="round" stroke-linecap="round" />
<path d="M108.6,250.8 C108.9,249.9 109.8,246 110.6,245.2 C111.4,244.3 112.6,244.9 113.2,245.7 C113.8,246.5 114.3,246.7 114.2,249.8 C114.1,252.9 113.6,261.4 112.7,264.2 C111.8,267 110.2,266.2 109.1,266.8 C108,267.4 106.5,267.4 106,267.5" fill="none" stroke="#000" stroke-width="1.9" stroke-linejoin="round" stroke-linecap="round" />
<path d="M110.5,251 L109,265" fill="none" stroke="#000" stroke-width="0.8" stroke-linejoin="round" stroke-linecap="round" />
<g transform="translate(32.4,372.8) rotate(28)" fill="none" stroke="#000" stroke-width="1.8" stroke-linecap="round">
<path d="M6.6,-5.6 A7.5,12 0 1 0 6.6,5.6"/>
<path d="M0,-12 L-10.5,-12 A7.5,12 0 0 0 -10.5,12 L0,12"/>
<path d="M-4.4,-12 A7.5,12 0 0 0 -4.4,12" stroke-width="1.3"/>
<path d="M-6.5,-11.5 A7.5,11.5 0 0 0 -6.5,11.5" stroke-width="0.8"/>
</g>
<path d="M18.5,360.8 C17.7,360.5 15.3,359.1 13.9,358.9 C12.5,358.6 10.7,358.9 10,359.3 C9.3,359.8 9.2,360.6 9.6,361.6 C10,362.6 11.3,364.5 12.3,365.4 C13.3,366.3 14.9,366.7 15.4,367" fill="none" stroke="#000" stroke-width="1.8" stroke-linejoin="round" stroke-linecap="round" />
<path d="M12.7,360.8 C13.3,360.7 16.3,359.8 16.6,360.4 C16.9,361 14.8,363.8 14.5,364.5" fill="none" stroke="#000" stroke-width="1.1" stroke-linejoin="round" stroke-linecap="round" />
<line x1="126.3" y1="260.3" x2="152.1" y2="275.3" stroke="#000" stroke-width="1.4" />
<line x1="159.5" y1="280" x2="162.7" y2="282" stroke="#000" stroke-width="1.4" />
<line x1="172.1" y1="286.3" x2="196.5" y2="300.4" stroke="#000" stroke-width="1.4" />
<line x1="33.3" y1="374.1" x2="57.6" y2="388" stroke="#000" stroke-width="1.4" />
<line x1="64.8" y1="392.1" x2="69.3" y2="394.8" stroke="#000" stroke-width="1.4" />
<line x1="77.4" y1="399.3" x2="102.6" y2="413.7" stroke="#000" stroke-width="1.4" />
<line x1="109.4" y1="417.8" x2="114.3" y2="420.5" stroke="#000" stroke-width="1.4" />
<line x1="119.7" y1="423.6" x2="126.9" y2="428.1" stroke="#000" stroke-width="1.4" />
<path d="M551.8,95.5 C550.7,100.4 548.1,114.2 545.3,125 C542.5,135.8 538.3,150.7 534.9,160.5 C531.5,170.3 527.3,177.5 524.6,184.1 C521.9,190.7 521.2,194 518.7,200 C516.2,206 512.8,212.6 509.8,220 C506.8,227.4 507.8,233.4 500.9,244.3 C494,255.2 477.3,272.4 468.4,285.7 C459.5,299 452.9,314 447.7,324.1 C442.5,334.2 439.1,342.6 437.4,346.3" fill="none" stroke="#000" stroke-width="1.8" stroke-linejoin="round" stroke-linecap="round" />
<path d="M437.4,346.3 C438.4,348.3 440.8,355.1 443.3,358.1 C445.8,361.1 448.5,363.1 452.2,364.1 C455.9,365.1 456.4,365.3 465.5,364.1 C474.6,362.9 497.8,359.7 506.9,356.7 C516,353.7 517.7,349.5 520.2,346.3 C522.8,343.1 520.2,340.4 522.2,337.5 C524.2,334.6 527.7,331.8 532,328.6 C536.3,325.4 544,322.4 548.2,318.2 C552.4,314 554.1,308.9 557.1,303.5 C560.1,298.1 563.5,289.8 566,285.7 C568.5,281.6 569.4,280.8 571.9,279.2 C574.4,277.6 577.6,277 580.8,276.3 C584,275.6 588.6,275.7 591.1,274.8 C593.6,273.9 594.8,271.5 595.5,270.9" fill="none" stroke="#000" stroke-width="1.8" stroke-linejoin="round" stroke-linecap="round" />
<path d="M595.5,270.9 C596,267.5 597.8,257.2 598.5,250.3 C599.2,243.4 599.3,236 600,229.6 C600.7,223.2 601.7,216.7 602.9,211.8 C604.1,206.9 604.2,206.6 607.4,200 C610.6,193.4 617.2,183.3 622.1,172.3 C627,161.3 633.7,145.2 636.9,133.9 C640.1,122.6 640.6,109.2 641.4,104.3" fill="none" stroke="#000" stroke-width="1.8" stroke-linejoin="round" stroke-linecap="round" />
<path d="M551.7,95 L555.1,96.3 L558.5,93.6 L558.5,90.2 L557.8,82.8 L565.2,78.1 L567.3,79.4 L565.9,86.9 L572,84.2 L574,82.1 L575.4,86.2 L584.1,88.2 L590.9,91.6 L597,93.6 L601.7,90.9 L607.1,88.9 L611.1,90.2 L615.2,86.9 L618.5,88.2 L622.6,90.2 L626,95 L630,105.1 L631.4,108.5 L641.5,103.7 L642.2,105.8" fill="none" stroke="#000" stroke-width="1.8" stroke-linejoin="round" stroke-linecap="round" />
<path d="M560.5,84.5 L563.5,82.5 L563,87.5" fill="none" stroke="#000" stroke-width="0.9" stroke-linejoin="round" stroke-linecap="round" />
<path d="M556,97.5 L572,90.5" fill="none" stroke="#000" stroke-width="0.9" stroke-linejoin="round" stroke-linecap="round" />
<path d="M572,91.6 L594.9,97 L608.4,92.3" fill="none" stroke="#000" stroke-width="0.9" stroke-linejoin="round" stroke-linecap="round" />
<path d="M620.5,90.5 L628.5,106.5" fill="none" stroke="#000" stroke-width="1.2" stroke-linejoin="round" stroke-linecap="round" />
<path d="M641.4,104.3 C637.7,106.3 625.4,112.5 619.2,116.2 C613,119.9 608.4,122.6 604.4,126.5 C600.4,130.4 599.9,129.7 595.5,139.8 C591.1,149.9 582.7,173.8 577.8,187.1 C572.9,200.4 568,214.4 566,219.9" fill="none" stroke="#000" stroke-width="1.1" stroke-linejoin="round" stroke-linecap="round" />
<path d="M566,219.9 C565.1,223 561.5,231.4 560.9,238.4 C560.2,245.4 560.8,255.2 562.1,262.1 C563.4,269 567.8,276.9 568.9,279.8" fill="none" stroke="#000" stroke-width="0.7" stroke-linejoin="round" stroke-linecap="round" />
<path d="M572,91.6 C570,96.2 564,110.6 560,119.1 C556,127.6 552.1,134.7 548.2,142.8 C544.3,150.9 540.3,160.5 536.4,167.9 C532.5,175.3 526.6,183.9 524.6,187.1" fill="none" stroke="#000" stroke-width="0.8" stroke-linejoin="round" stroke-linecap="round" />
<path d="M598.5,241 L602,243.5" fill="none" stroke="#000" stroke-width="1" stroke-linejoin="round" stroke-linecap="round" />
<path d="M407.6,106.8 L417.3,106.2 L425,106.8 L436.6,116.5 L432.1,134.5 L421.1,130.6 L419.8,126.1 L403.1,124.8 L406.3,115.8Z" fill="none" stroke="#000" stroke-width="1.9" stroke-linejoin="round" stroke-linecap="round" />
<path d="M425,114.5 L434,117.2 L430.8,130 L422.4,128.7Z" fill="none" stroke="#000" stroke-width="0.9" stroke-linejoin="round" stroke-linecap="round" />
<path d="M427.5,119 L425.5,127" fill="none" stroke="#000" stroke-width="0.8" stroke-linejoin="round" stroke-linecap="round" />
<path d="M407,112 L409,113 L408,117" fill="none" stroke="#000" stroke-width="0.8" stroke-linejoin="round" stroke-linecap="round" />
<line x1="444.8" y1="130.4" x2="468.4" y2="143.7" stroke="#000" stroke-width="1.4" />
<line x1="478.5" y1="149.2" x2="482" y2="151.2" stroke="#000" stroke-width="1.4" />
<line x1="490.6" y1="156.1" x2="514.2" y2="170.3" stroke="#000" stroke-width="1.4" />
<line x1="643.4" y1="118.2" x2="672" y2="118.4" stroke="#000" stroke-width="1.4" />
<line x1="680" y1="119.3" x2="687" y2="119.3" stroke="#000" stroke-width="1.4" />
<line x1="694" y1="119.8" x2="702" y2="119.8" stroke="#000" stroke-width="1.4" />
<circle cx="727" cy="120.2" r="8.4" fill="#fcfffc" stroke="#000" stroke-width="2.2"/>
<path d="M722,115.5 L727.5,114 L731.5,118 L730,124.5 L724,126 L720.5,121.5Z" fill="none" stroke="#222" stroke-width="1" stroke-linejoin="round" stroke-linecap="round" />
<path d="M718.5,116.6 C717.1,116.6 711.8,115.8 710,116.4 C708.2,117.1 707.6,119.1 707.6,120.5 C707.6,121.9 708.2,124 710,124.6 C711.8,125.2 717.1,124.3 718.5,124.2" fill="none" stroke="#000" stroke-width="1.8" stroke-linejoin="round" stroke-linecap="round" />
<path d="M712.5,116.8 C712.2,117.4 711,119.3 711,120.5 C711,121.7 712.2,123.6 712.5,124.2" fill="none" stroke="#000" stroke-width="0.9" stroke-linejoin="round" stroke-linecap="round" />
<line x1="600" y1="242.9" x2="619.2" y2="257.6" stroke="#000" stroke-width="1.4" />
<line x1="623.6" y1="260.6" x2="628" y2="264.1" stroke="#000" stroke-width="1.4" />
<line x1="634" y1="268.6" x2="652.4" y2="285.5" stroke="#000" stroke-width="1.4" />
<g transform="translate(665.3,296.8) rotate(42)">
<rect x="-12" y="-4.8" width="24" height="9.6" rx="3.2" fill="#0a0a0a" stroke="#000" stroke-width="0.8"/>
<line x1="-10.4" y1="-3" x2="-9.2" y2="3" stroke="#fff" stroke-width="0.9"/>
<line x1="-8" y1="-3" x2="-6.8" y2="3" stroke="#fff" stroke-width="0.9"/>
<line x1="-5.5" y1="-3" x2="-4.3" y2="3" stroke="#fff" stroke-width="0.9"/>
<line x1="-3.1" y1="-3" x2="-1.9" y2="3" stroke="#fff" stroke-width="0.9"/>
<line x1="-0.6" y1="-3" x2="0.6" y2="3" stroke="#fff" stroke-width="0.9"/>
<line x1="1.8" y1="-3" x2="3" y2="3" stroke="#fff" stroke-width="0.9"/>
<line x1="4.3" y1="-3" x2="5.5" y2="3" stroke="#fff" stroke-width="0.9"/>
<line x1="6.8" y1="-3" x2="8" y2="3" stroke="#fff" stroke-width="0.9"/>
<line x1="9.2" y1="-3" x2="10.4" y2="3" stroke="#fff" stroke-width="0.9"/>
</g>
<ellipse cx="678.3" cy="307.3" rx="19.6" ry="6.3" transform="rotate(-49 678.3 307.3)" fill="#fcfffc" stroke="#000" stroke-width="1.9"/>
<path d="M373.2,921.1 L410.7,897 L416.3,895.2 L434.7,903.4" fill="none" stroke="#000" stroke-width="2" stroke-linejoin="round" stroke-linecap="round" />
<path d="M434.7,903.4 C434.5,909.8 434.1,928.2 433.3,941.6 C432.5,955 430.8,974.3 429.8,984 C428.9,993.7 428.7,990.3 427.6,1000 C426.5,1009.7 424.7,1029.2 423.4,1042.4 C422.1,1055.6 420.4,1073.1 419.8,1079.2" fill="none" stroke="#000" stroke-width="2" stroke-linejoin="round" stroke-linecap="round" />
<path d="M419.8,1079.2 C417,1077.8 406.9,1071.9 402.9,1070.7 C398.9,1069.5 401.7,1069.3 395.8,1072.1 C389.9,1074.9 373.3,1084.2 367.5,1087.7 C361.7,1091.2 362.2,1092.4 361.2,1093.3" fill="none" stroke="#000" stroke-width="1.6" stroke-linejoin="round" stroke-linecap="round" />
<path d="M361.2,1093.3 L354,1114.5" fill="none" stroke="#000" stroke-width="1.6" stroke-linejoin="round" stroke-linecap="round" />
<path d="M354,1114.5 C352.9,1113.6 346.8,1109.3 345.5,1108 C344.2,1106.7 343.7,1107.7 344.2,1104.6 C344.7,1101.5 347.3,1092.1 349.1,1084.8 C350.9,1077.5 355.8,1059.5 357.6,1049.5 C359.4,1039.5 361.4,1018 362.5,1010 C363.6,1002 365.1,993.1 366.2,989.6 C367.3,986.1 369.5,986.6 370.4,984 C371.3,981.4 372.7,973.9 373.2,969.8 C373.7,965.7 374.3,956.7 373.9,952.9 C373.5,949.1 370.7,945 370.4,941.6 C370.1,938.2 371,930.1 371.4,927.4 C371.8,924.7 373,921.9 373.2,921.1" fill="none" stroke="#000" stroke-width="2" stroke-linejoin="round" stroke-linecap="round" />
<path d="M375.3,923.9 C376.4,925.1 382.9,929.8 383.8,933.1 C384.7,936.4 383,943.7 382.4,948.6 C381.8,953.5 380.4,964.1 379.6,969.8 C378.8,975.5 377,985.6 376.1,991 C375.2,996.4 374.2,1003.1 373.2,1010 C372.2,1016.9 370.2,1032.4 368.9,1042.4 C367.6,1052.4 365.3,1075.2 363.3,1084.8 C361.3,1094.4 355.3,1110.5 354.1,1114.5" fill="none" stroke="#000" stroke-width="1.6" stroke-linejoin="round" stroke-linecap="round" />
<path d="M376,924 L413,900 L432,908.5" fill="none" stroke="#000" stroke-width="0.9" stroke-linejoin="round" stroke-linecap="round" />
<path d="M431.5,908.5 C431.3,914 431.2,929 430.5,941.6 C429.8,954.2 428.6,967.2 427,984 C425.4,1000.8 422.6,1027.1 421,1042.4 C419.4,1057.7 418.1,1070.4 417.5,1076" fill="none" stroke="#000" stroke-width="0.8" stroke-linejoin="round" stroke-linecap="round" />
<path d="M385.2,941.5 L407.9,931.7 L416.3,931 L424.8,935.2" fill="none" stroke="#000" stroke-width="1.25" stroke-linejoin="round" stroke-linecap="round" />
<path d="M385.2,944 L407.9,934.7 L416.3,934 L424.8,938.2" fill="none" stroke="#000" stroke-width="1.25" stroke-linejoin="round" stroke-linecap="round" />
<path d="M384.5,949.3 L406.5,939.8 L416.3,939 L424.8,942.8" fill="none" stroke="#000" stroke-width="1.25" stroke-linejoin="round" stroke-linecap="round" />
<path d="M382.4,967 L406.5,955.7 L416.3,955 L426.2,960" fill="none" stroke="#000" stroke-width="1.25" stroke-linejoin="round" stroke-linecap="round" />
<path d="M382.6,969 L389,966" fill="none" stroke="#000" stroke-width="1.25" stroke-linejoin="round" stroke-linecap="round" />
<path d="M394.4,991 L410.7,984.7 L421.3,989.6 L422.5,971.2" fill="none" stroke="#000" stroke-width="1.25" stroke-linejoin="round" stroke-linecap="round" />
<path d="M394.4,993.5 L410.7,987.2 L420,991.5" fill="none" stroke="#000" stroke-width="1.25" stroke-linejoin="round" stroke-linecap="round" />
<path d="M424,971 L423.2,989" fill="none" stroke="#000" stroke-width="1.25" stroke-linejoin="round" stroke-linecap="round" />
<path d="M389.6,946 L389.3,958.5" fill="none" stroke="#333" stroke-width="0.6" stroke-linejoin="round" stroke-linecap="round" />
<path d="M391.5,945.2 L391.2,957.7" fill="none" stroke="#333" stroke-width="0.6" stroke-linejoin="round" stroke-linecap="round" />
<path d="M393.4,944.5 L393.1,956.9" fill="none" stroke="#333" stroke-width="0.6" stroke-linejoin="round" stroke-linecap="round" />
<path d="M395.3,943.8 L395,956.1" fill="none" stroke="#333" stroke-width="0.6" stroke-linejoin="round" stroke-linecap="round" />
<path d="M397.2,943 L396.9,955.3" fill="none" stroke="#333" stroke-width="0.6" stroke-linejoin="round" stroke-linecap="round" />
<path d="M399.1,942.2 L398.8,954.5" fill="none" stroke="#333" stroke-width="0.6" stroke-linejoin="round" stroke-linecap="round" />
<path d="M401,941.5 L400.7,953.7" fill="none" stroke="#333" stroke-width="0.6" stroke-linejoin="round" stroke-linecap="round" />
<path d="M402.9,940.8 L402.6,952.9" fill="none" stroke="#333" stroke-width="0.6" stroke-linejoin="round" stroke-linecap="round" />
<path d="M392.5,940 L392.8,946" fill="none" stroke="#000" stroke-width="1.2" stroke-linejoin="round" stroke-linecap="round" />
<path d="M401,936.5 L401.3,942.5" fill="none" stroke="#000" stroke-width="1.2" stroke-linejoin="round" stroke-linecap="round" />
<path d="M404,935.5 L404.2,941" fill="none" stroke="#000" stroke-width="1.2" stroke-linejoin="round" stroke-linecap="round" />
<path d="M393,917.5 C392.9,921.5 392.8,932.9 392.3,941.6 C391.8,950.3 390.9,960.4 390.2,969.8 C389.5,979.2 388.4,993.3 388,998" fill="none" stroke="#000" stroke-width="0.9" stroke-linejoin="round" stroke-linecap="round" />
<path d="M395.1,917.5 C395,926.2 394.8,954.4 394.4,969.8 C394,985.2 393.2,1003.3 393,1010" fill="none" stroke="#000" stroke-width="0.9" stroke-linejoin="round" stroke-linecap="round" />
<path d="M389.5,960 C389,964.2 387.6,977.5 386.5,985 C385.4,992.5 383.6,1001.7 383,1005" fill="none" stroke="#000" stroke-width="0.7" stroke-linejoin="round" stroke-linecap="round" />
<path d="M391.5,960 C391.1,964.2 389.8,977.8 389,985 C388.2,992.2 386.9,1000 386.5,1003" fill="none" stroke="#000" stroke-width="0.7" stroke-linejoin="round" stroke-linecap="round" />
<ellipse cx="380.5" cy="925" rx="4" ry="1.6" transform="rotate(40 380.5 925)" fill="none" stroke="#000" stroke-width="1.5"/>
<ellipse cx="409.5" cy="906.7" rx="3.6" ry="1.5" transform="rotate(40 409.5 906.7)" fill="none" stroke="#000" stroke-width="1.5"/>
<path d="M385.5,918 L384.5,923.5" fill="none" stroke="#000" stroke-width="1.2" stroke-linejoin="round" stroke-linecap="round" />
<path d="M402.5,906 L405,913" fill="none" stroke="#000" stroke-width="1.2" stroke-linejoin="round" stroke-linecap="round" />
<path d="M407.5,914 L409,913.5 L409.3,918 L407.8,918.5Z" fill="none" stroke="#000" stroke-width="0.9" stroke-linejoin="round" stroke-linecap="round" />
<path d="M391.5,915 L395,913.5 L397.5,916 L394,918Z" fill="none" stroke="#000" stroke-width="1" stroke-linejoin="round" stroke-linecap="round" />
<path d="M372.5,1025 L395,1014 L408,1019" fill="none" stroke="#000" stroke-width="1.1" stroke-linejoin="round" stroke-linecap="round" />
<path d="M370.5,1040 L396,1027 L404,1031" fill="none" stroke="#000" stroke-width="1.1" stroke-linejoin="round" stroke-linecap="round" />
<path d="M369,1066 L400,1053 L416.5,1058.5" fill="none" stroke="#000" stroke-width="1.1" stroke-linejoin="round" stroke-linecap="round" />
<path d="M376,1000 L372,1030 L369,1066" fill="none" stroke="#000" stroke-width="1.1" stroke-linejoin="round" stroke-linecap="round" />
<path d="M381,1000 L377,1040 L374,1066" fill="none" stroke="#000" stroke-width="1.1" stroke-linejoin="round" stroke-linecap="round" />
<path d="M386,1003 L380,1040 L377.5,1064" fill="none" stroke="#000" stroke-width="1.1" stroke-linejoin="round" stroke-linecap="round" />
<path d="M391,1005 L384,1040 L381,1062" fill="none" stroke="#000" stroke-width="1.1" stroke-linejoin="round" stroke-linecap="round" />
<path d="M396,1014 L389,1040 L399,1056" fill="none" stroke="#000" stroke-width="1.1" stroke-linejoin="round" stroke-linecap="round" />
<path d="M399,1020 L392,1050" fill="none" stroke="#000" stroke-width="1.1" stroke-linejoin="round" stroke-linecap="round" />
<path d="M377,1040 L385,1060" fill="none" stroke="#000" stroke-width="1.1" stroke-linejoin="round" stroke-linecap="round" />
<path d="M381,1038 L392,1058" fill="none" stroke="#000" stroke-width="1.1" stroke-linejoin="round" stroke-linecap="round" />
<path d="M396.5,1013.5 L404.5,1009 L420,1016 L419,1030 L397.5,1018.5" fill="none" stroke="#000" stroke-width="1.1" stroke-linejoin="round" stroke-linecap="round" />
<path d="M404.5,1009 L405,1014 L413,1018 L417,1016" fill="none" stroke="#000" stroke-width="1.1" stroke-linejoin="round" stroke-linecap="round" />
<path d="M367,1066 L374,1069 L374,1076 L366,1072" fill="none" stroke="#000" stroke-width="1.1" stroke-linejoin="round" stroke-linecap="round" />
<path d="M417.5,1076 C414.9,1074.8 405.8,1069.5 402,1068.5 C398.2,1067.5 401,1067.1 395,1070 C389,1072.9 371.4,1082.7 366,1086 C360.6,1089.3 363.1,1089.3 362.5,1090" fill="none" stroke="#000" stroke-width="0.9" stroke-linejoin="round" stroke-linecap="round" />
<path d="M470.2,994.3 L475.9,992.2 L481.6,993.6 L481.6,1002.8 L490,999.9 L490.7,997.1 L499.2,998.5 L498.5,1015.5 L490.7,1018.3 L480.1,1019.7 L468.8,1012Z" fill="none" stroke="#000" stroke-width="1.9" stroke-linejoin="round" stroke-linecap="round" />
<path d="M474.5,994.5 L478,993.8 L479,996" fill="none" stroke="#000" stroke-width="1" stroke-linejoin="round" stroke-linecap="round" />
<path d="M470.2,994.3 L481.6,1002.8" fill="none" stroke="#000" stroke-width="1.7" stroke-linejoin="round" stroke-linecap="round" />
<path d="M490,999.9 L489,1017" fill="none" stroke="#000" stroke-width="0.9" stroke-linejoin="round" stroke-linecap="round" />
<path d="M493.5,1001 L492.5,1014" fill="none" stroke="#000" stroke-width="0.8" stroke-linejoin="round" stroke-linecap="round" />
<line x1="433.5" y1="982.3" x2="460.3" y2="997.8" stroke="#000" stroke-width="1.4" />
<line x1="427.8" y1="1030.3" x2="464.6" y2="1051.5" stroke="#000" stroke-width="1.4" />
<g transform="translate(486.2,1064.2) rotate(16)" fill="none" stroke="#000" stroke-width="1.8" stroke-linecap="round">
<path d="M0,-12.8 L-10,-12.8 A8.1,12.8 0 0 0 -10,12.8 L0,12.8 A8.1,12.8 0 0 0 0,-12.8 Z" fill="#fcfffc" stroke="none"/>
<ellipse cx="0" cy="0" rx="8.1" ry="12.8"/>
<path d="M0,-12.8 L-10,-12.8 A8.1,12.8 0 0 0 -10,12.8 L0,12.8"/>
<path d="M-4.2,-12.8 A8.1,12.8 0 0 0 -4.2,12.8" stroke-width="1.3"/>
<path d="M-6.2,-12.3 A8.1,12.3 0 0 0 -6.2,12.3" stroke-width="0.8"/>
</g>
<path d="M485.8,1060 L491.2,1060.7 L499.7,1071.8 L493.6,1073.3 L484.3,1070.8Z" fill="#fcfffc" stroke="#000" stroke-width="1.6" stroke-linejoin="round" stroke-linecap="round" />
<path d="M487.5,1061.5 L496.5,1070.8" fill="none" stroke="#000" stroke-width="0.9" stroke-linejoin="round" stroke-linecap="round" />
<path d="M485.3,1066 L494.5,1072.3" fill="none" stroke="#000" stroke-width="0.9" stroke-linejoin="round" stroke-linecap="round" />
<path d="M485.8,1060 C485.4,1060.5 483.8,1061.2 483.5,1063 C483.2,1064.8 484.2,1069.5 484.3,1070.8" fill="none" stroke="#000" stroke-width="1.2" stroke-linejoin="round" stroke-linecap="round" />
<path d="M708.9,704.1 C707.2,709.4 700.1,731 697.4,739.4 C694.7,747.8 693.4,753.4 691,760 C688.6,766.6 684.7,775.5 681.7,783.1 C678.7,790.7 673.9,804 670.9,810.9 C667.9,817.8 664.4,824.8 661.6,829.4 C658.8,834 654.4,838.8 652.4,841.8 C650.4,844.8 649.9,846 648.5,849.5 C647.1,853 645.1,859.8 643.1,864.9 C641.1,870 637.6,878.1 635.4,883.4 C633.2,888.7 631.7,892.5 628.5,900 C625.3,907.5 618.2,924.6 614.2,933.6 C610.2,942.6 604.5,954.8 602.1,960.2 C599.7,965.6 598.5,967.1 598.5,969.8 C598.5,972.5 600.1,976.3 602.1,978.3 C604.1,980.3 608.4,981.9 611.7,983.1 C615,984.3 622,985.8 623.8,986.3" fill="none" stroke="#000" stroke-width="1.8" stroke-linejoin="round" stroke-linecap="round" />
<path d="M752.3,694.9 C750.8,698.6 745.7,711.3 742.5,719.7 C739.3,728.1 733.1,745 730.9,751 C728.7,757 729.8,755.4 728,760 C726.2,764.6 721,775.6 718.7,781.6 C716.4,787.6 714.3,794.6 712.5,800.1 C710.7,805.6 708.7,811.7 706.4,818.6 C704.1,825.5 699.5,839.5 697.1,846.4 C694.7,853.3 692.5,859.4 690.2,864.9 C687.9,870.4 684.5,878.1 681.7,883.4 C678.9,888.7 675.7,893.6 671.7,900 C667.7,906.4 660.2,917.6 655.2,926.3 C650.2,935 643,948.7 638.3,957.7 C633.6,966.7 626,982 623.8,986.3" fill="none" stroke="#000" stroke-width="1.8" stroke-linejoin="round" stroke-linecap="round" />
<path d="M711.2,693.1 C711.4,692.5 712.1,689.6 713,688.5 C713.9,687.4 716,686.2 718.2,685 C720.4,683.8 727.6,680 729.7,679.3 C731.8,678.6 732.7,678.7 733.8,679.8 C734.9,680.9 736.8,685.2 737.8,687.4 C738.8,689.6 740.8,694.9 741.3,696" fill="none" stroke="#000" stroke-width="1.8" stroke-linejoin="round" stroke-linecap="round" />
<path d="M711.2,694.5 L710.2,699.5" fill="none" stroke="#000" stroke-width="1.6" stroke-linejoin="round" stroke-linecap="round" />
<path d="M721.6,700.1 L718.2,692 L732.1,685 L734.4,686.2 L737.8,697.8" fill="none" stroke="#000" stroke-width="1.5" stroke-linejoin="round" stroke-linecap="round" />
<path d="M725.1,693.1 L730.9,690.2 L734.4,698.9" fill="none" stroke="#000" stroke-width="1" stroke-linejoin="round" stroke-linecap="round" />
<path d="M725.1,693.1 L727.5,698" fill="none" stroke="#000" stroke-width="1" stroke-linejoin="round" stroke-linecap="round" />
<path d="M719.3,701.2 L726.3,698.3 L728.6,708.2 L723.4,711.1Z" fill="none" stroke="#000" stroke-width="1.5" stroke-linejoin="round" stroke-linecap="round" />
<circle cx="724" cy="702.8" r="1.1" fill="none" stroke="#000" stroke-width="0.7"/>
<path d="M737.3,701.2 L750,693.1 L752.7,694.5" fill="none" stroke="#000" stroke-width="1.7" stroke-linejoin="round" stroke-linecap="round" />
<path d="M745.9,708.2 L737.8,703.5 L730.9,704.7 L728.6,705.5" fill="none" stroke="#000" stroke-width="1.2" stroke-linejoin="round" stroke-linecap="round" />
<path d="M737.8,703.5 L751,696.5" fill="none" stroke="#000" stroke-width="0.9" stroke-linejoin="round" stroke-linecap="round" />
<path d="M723.4,711.1 C722.5,711 718.6,709.8 717,710 C715.4,710.2 712,712 711.2,712.8 C710.4,713.6 710.6,714.3 710.7,716.3 C710.8,718.3 711.3,723.9 711.8,727.8 C712.3,731.7 714.2,740.6 714.7,745.2 C715.2,749.8 715.9,757.9 715.9,762.5 C715.9,767.1 715.2,775 714.7,780 C714.2,785 712.8,797.4 712.5,800.1" fill="none" stroke="#000" stroke-width="1.6" stroke-linejoin="round" stroke-linecap="round" />
<path d="M714.7,714 C715.1,716.3 716.4,722.6 717,727.8 C717.6,733 718,739.4 718.2,745.2 C718.4,751 718.4,756.7 718.2,762.5 C718,768.3 717.2,777.1 717,780" fill="none" stroke="#000" stroke-width="1.1" stroke-linejoin="round" stroke-linecap="round" />
<path d="M730.3,708.2 L718.2,769.5" fill="none" stroke="#000" stroke-width="0.8" stroke-linejoin="round" stroke-linecap="round" />
<path d="M718.2,769.5 C717.7,772.1 716.2,779.4 715,785 C713.8,790.6 712.4,797.4 711,803 C709.6,808.6 707.2,816 706.4,818.6" fill="none" stroke="#000" stroke-width="1" stroke-linejoin="round" stroke-linecap="round" />
<path d="M711,800.1 L705.6,818.6" fill="none" stroke="#000" stroke-width="2.6" stroke-linejoin="round" stroke-linecap="round" />
<path d="M692.5,860.3 L688.6,871" fill="none" stroke="#000" stroke-width="2.6" stroke-linejoin="round" stroke-linecap="round" />
<path d="M666,911 L660,921.5" fill="none" stroke="#000" stroke-width="2.6" stroke-linejoin="round" stroke-linecap="round" />
<path d="M641.5,953 L637,961.5" fill="none" stroke="#000" stroke-width="2.6" stroke-linejoin="round" stroke-linecap="round" />
<path d="M654.3,678.9 C653.5,679 650.9,678.3 649.6,679.6 C648.3,680.9 646.6,684.3 646.6,686.6 C646.6,688.9 648.5,692 649.6,693.5 C650.8,695 652.9,695.4 653.5,695.8" fill="none" stroke="#000" stroke-width="1.8" stroke-linejoin="round" stroke-linecap="round" />
<path d="M652.5,680.5 C652.1,681.6 650.1,684.8 650,687 C649.9,689.2 651.7,692.8 652,694" fill="none" stroke="#000" stroke-width="0.9" stroke-linejoin="round" stroke-linecap="round" />
<ellipse cx="658.9" cy="687.4" rx="6.5" ry="10.2" fill="#fcfffc" stroke="#000" stroke-width="1.9"/>
<path d="M660.5,683.2 L668.2,685.6 L675.9,687.4 A1.8,3 0 0 1 676.4,693.4 L668.9,694.1 L660.5,692.2 A2.6,4.6 0 0 1 660.5,683.2Z" fill="#fcfffc" stroke="#000" stroke-width="1.6" stroke-linejoin="round" stroke-linecap="round" />
<path d="M669.3,686.3 L668.9,693.6" fill="none" stroke="#000" stroke-width="0.8" stroke-linejoin="round" stroke-linecap="round" />
<path d="M672.3,687 L672,693.6" fill="none" stroke="#000" stroke-width="0.8" stroke-linejoin="round" stroke-linecap="round" />
<line x1="680.1" y1="692.4" x2="717.6" y2="700.7" stroke="#000" stroke-width="1.4" />
<ellipse cx="566.2" cy="814.6" rx="20" ry="7.2" transform="rotate(-42.8 566.2 814.6)" fill="none" stroke="#000" stroke-width="1.9"/>
<g transform="translate(575.8,824.2) rotate(44)">
<rect x="-14.2" y="-4.8" width="28.5" height="9.6" rx="3.2" fill="#0a0a0a" stroke="#000" stroke-width="0.8"/>
<line x1="-12.7" y1="-3" x2="-11.5" y2="3" stroke="#fff" stroke-width="0.9"/>
<line x1="-10.2" y1="-3" x2="-9" y2="3" stroke="#fff" stroke-width="0.9"/>
<line x1="-7.8" y1="-3" x2="-6.6" y2="3" stroke="#fff" stroke-width="0.9"/>
<line x1="-5.4" y1="-3" x2="-4.2" y2="3" stroke="#fff" stroke-width="0.9"/>
<line x1="-3" y1="-3" x2="-1.8" y2="3" stroke="#fff" stroke-width="0.9"/>
<line x1="-0.6" y1="-3" x2="0.6" y2="3" stroke="#fff" stroke-width="0.9"/>
<line x1="1.8" y1="-3" x2="3" y2="3" stroke="#fff" stroke-width="0.9"/>
<line x1="4.2" y1="-3" x2="5.4" y2="3" stroke="#fff" stroke-width="0.9"/>
<line x1="6.6" y1="-3" x2="7.8" y2="3" stroke="#fff" stroke-width="0.9"/>
<line x1="9" y1="-3" x2="10.2" y2="3" stroke="#fff" stroke-width="0.9"/>
<line x1="11.5" y1="-3" x2="12.7" y2="3" stroke="#fff" stroke-width="0.9"/>
</g>
<line x1="589.2" y1="841.3" x2="608.9" y2="861" stroke="#000" stroke-width="1.4" />
<line x1="614.6" y1="866.8" x2="619.3" y2="871.4" stroke="#000" stroke-width="1.4" />
<line x1="625" y1="877.2" x2="630.8" y2="883" stroke="#000" stroke-width="1.4" />
<line x1="694" y1="864.9" x2="733.4" y2="883.4" stroke="#000" stroke-width="1.4" />
<path d="M742.9,878.8 L747.9,878.8 L763.8,887.4 L759.4,901.8 L757.3,904.7 L753,903.3 L750.8,905.1 L745.8,904.4 L746.5,899.7 L740,899 L736.4,896.1Z" fill="none" stroke="#000" stroke-width="1.9" stroke-linejoin="round" stroke-linecap="round" />
<path d="M749.4,882.4 L745.8,896.8" fill="none" stroke="#000" stroke-width="1.5" stroke-linejoin="round" stroke-linecap="round" />
<path d="M750.6,889.5 L753,886.7 L759.4,887.8" fill="none" stroke="#000" stroke-width="1.2" stroke-linejoin="round" stroke-linecap="round" />
<path d="M750.6,889.5 L748.5,898" fill="none" stroke="#000" stroke-width="1.1" stroke-linejoin="round" stroke-linecap="round" />
<path d="M750.1,895.4 L753,893.9 L752.2,898.2 L750.8,898.6Z" fill="none" stroke="#000" stroke-width="0.8" stroke-linejoin="round" stroke-linecap="round" />
</g>
<g id="labels">
<line x1="103.4" y1="197.8" x2="103.4" y2="233" stroke="#000" stroke-width="1.4" />
<circle cx="103.4" cy="233" r="3.2" fill="#000"/>
<line x1="218.9" y1="220" x2="218.9" y2="288" stroke="#000" stroke-width="1.4" />
<circle cx="218.9" cy="288" r="3.2" fill="#000"/>
<line x1="26.6" y1="316.4" x2="26.6" y2="353.5" stroke="#000" stroke-width="1.4" />
<circle cx="26.6" cy="353.5" r="3.2" fill="#000"/>
<line x1="410.2" y1="69.8" x2="410.2" y2="103.6" stroke="#000" stroke-width="1.4" />
<circle cx="410.2" cy="103.6" r="3.2" fill="#000"/>
<line x1="597.3" y1="26.6" x2="597.3" y2="92.5" stroke="#000" stroke-width="1.4" />
<circle cx="597.3" cy="92.5" r="3.2" fill="#000"/>
<line x1="725.5" y1="132.9" x2="725.5" y2="180.5" stroke="#000" stroke-width="1.4" />
<circle cx="725.5" cy="132.9" r="3.2" fill="#000"/>
<line x1="667" y1="323.2" x2="667" y2="370.7" stroke="#000" stroke-width="1.4" />
<circle cx="667" cy="323.2" r="3.2" fill="#000"/>
<line x1="652.7" y1="698.8" x2="652.7" y2="746" stroke="#000" stroke-width="1.4" />
<circle cx="652.7" cy="698.8" r="3.2" fill="#000"/>
<line x1="755.8" y1="908" x2="755.8" y2="955.3" stroke="#000" stroke-width="1.4" />
<circle cx="755.8" cy="908" r="3.2" fill="#000"/>
<line x1="623.8" y1="986.3" x2="623.8" y2="1041.7" stroke="#000" stroke-width="1.4" />
<circle cx="623.8" cy="986.3" r="3.2" fill="#000"/>
<line x1="482.3" y1="1078.6" x2="482.3" y2="1125.7" stroke="#000" stroke-width="1.4" />
<circle cx="482.3" cy="1078.6" r="3.2" fill="#000"/>
<line x1="353.8" y1="1114.8" x2="353.8" y2="1172.5" stroke="#000" stroke-width="1.4" />
<circle cx="353.8" cy="1114.8" r="3.2" fill="#000"/>
<line x1="493.3" y1="951.9" x2="493.3" y2="995.4" stroke="#000" stroke-width="1.4" />
<circle cx="493.3" cy="995.4" r="3.2" fill="#000"/>
<line x1="510.5" y1="812.4" x2="556.1" y2="812.4" stroke="#000" stroke-width="1.4" />
<circle cx="556.3" cy="812.4" r="3.2" fill="#000"/>
<text x="81.1" y="194" font-size="18" fill="#1238ff" >HC1</text>
<text x="179.7" y="216.1" font-size="18" fill="#1238ff" >&lt;24320B</text>
<text x="3.6" y="313" font-size="18" fill="#1238ff" >HC2</text>
<text x="389.1" y="66.3" font-size="18" fill="#1238ff" >HC1</text>
<text x="554.2" y="22.5" font-size="18" fill="#1238ff" >&lt;519A67B</text>
<text x="705.1" y="202.6" font-size="18" fill="#1238ff" >HS1</text>
<text x="645.1" y="394.2" font-size="18" fill="#1238ff" >HM1</text>
<text x="632.4" y="766.5" font-size="18" fill="#1238ff" >HS1</text>
<text x="465.6" y="822.7" font-size="18" fill="#1238ff" >HM1</text>
<text x="734.3" y="975.9" font-size="18" fill="#1238ff" >HC1</text>
<text x="579.2" y="1066.5" font-size="18" fill="#1238ff" >&lt;519A67A</text>
<text x="472.4" y="948.3" font-size="18" fill="#1238ff" >HC1</text>
<text x="460.7" y="1147.4" font-size="18" fill="#1238ff" >HC2</text>
<text x="315.9" y="1192.6" font-size="18" fill="#1238ff" >&lt;24320A</text>
</g>
</svg>
</body></html>
